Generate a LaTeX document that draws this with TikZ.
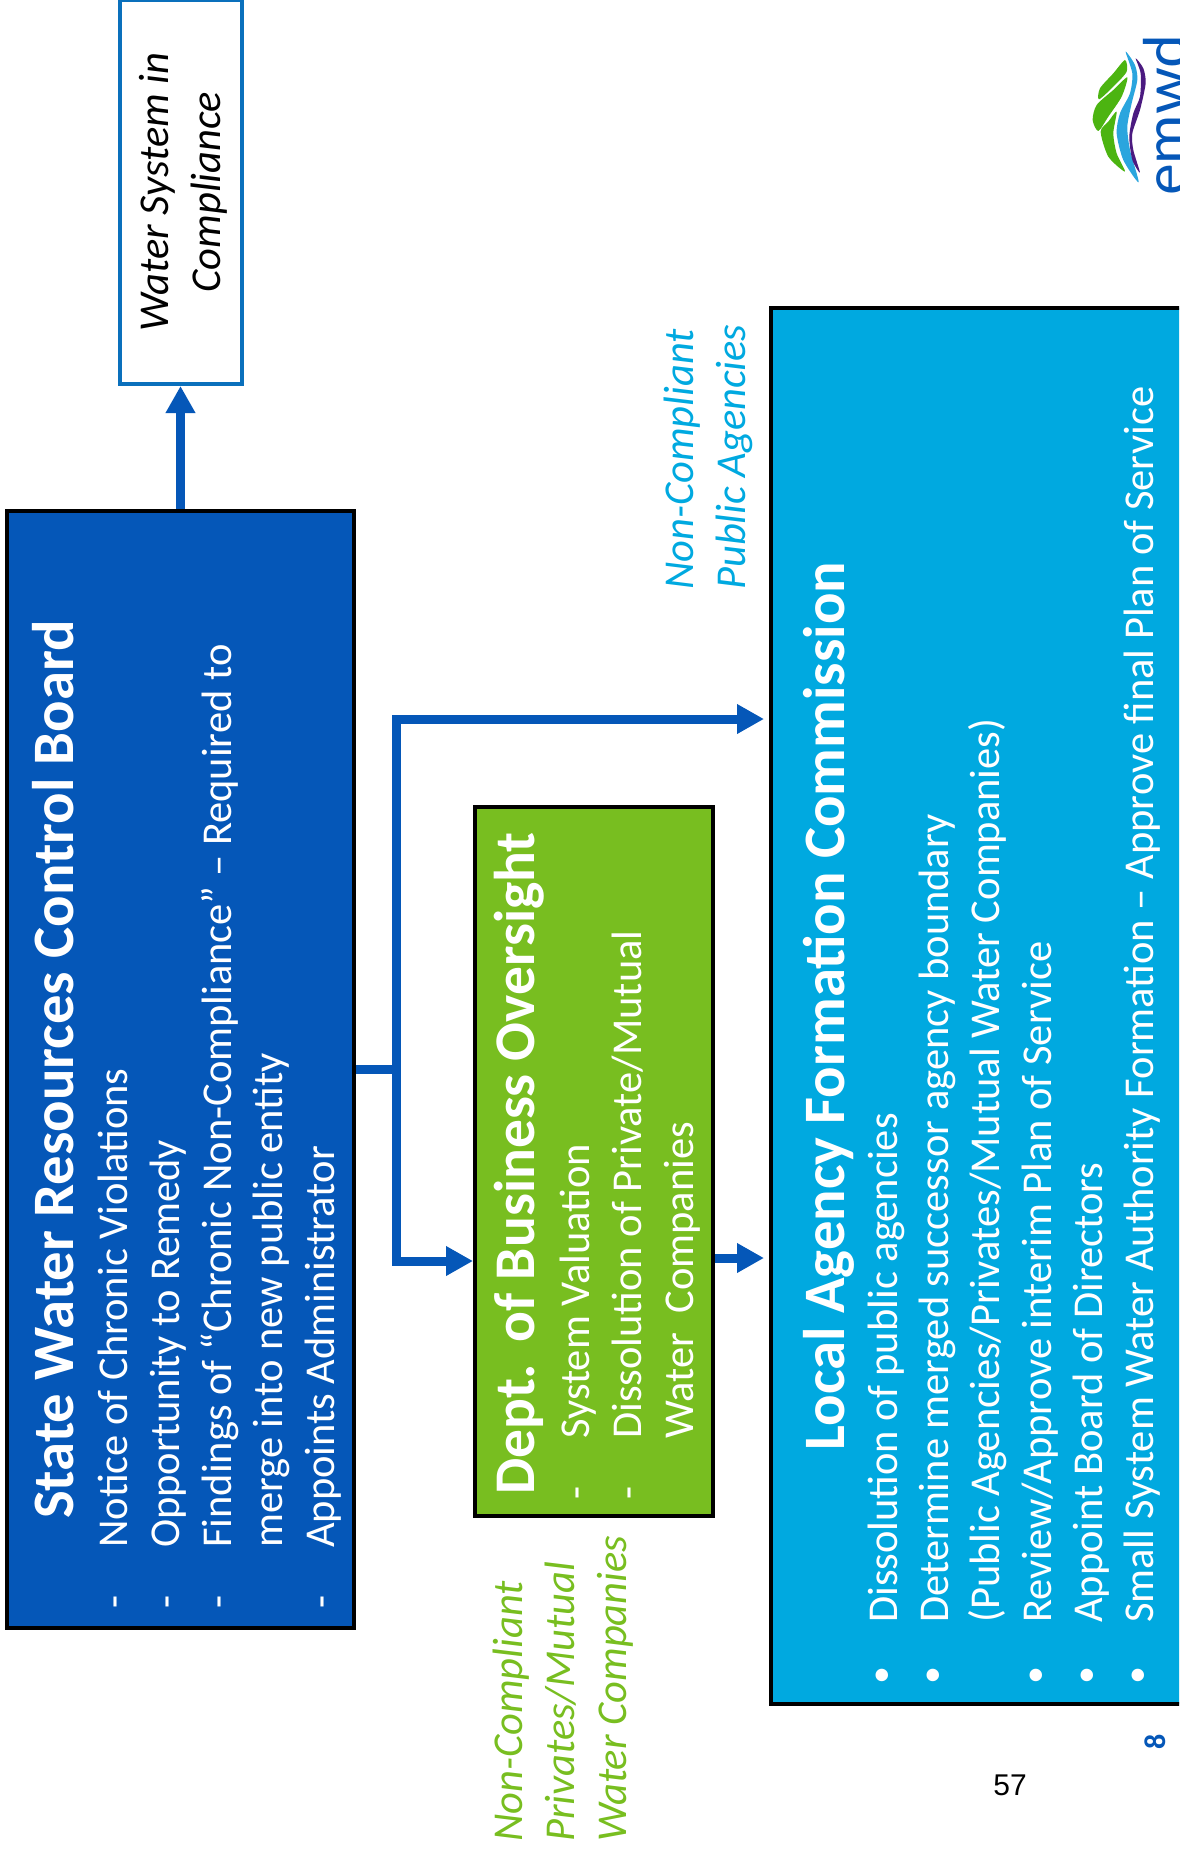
\documentclass[tikz,border=0pt]{standalone}
\usepackage{fontspec}
\setmainfont{Carlito}
\newfontfamily\logofont{Lato}
\newfontfamily\pagefont{Liberation Sans}
\usetikzlibrary{arrows.meta}
\definecolor{boardblue}{HTML}{0557B8}
\definecolor{oversightgreen}{HTML}{78BE20}
\definecolor{lafcoblue}{HTML}{00A9E0}
\definecolor{framebluex}{HTML}{0A70BC}
\definecolor{leafgreen}{HTML}{4CB411}
\definecolor{streamblue}{HTML}{2AA5DE}
\definecolor{streampurple}{HTML}{4B1A80}
\newcommand{\bodysize}{\fontsize{42.5}{51.7}\selectfont}
\newcommand{\dashitem}[1]{\makebox[53pt][l]{\hspace*{-8pt}-}#1}
\newcommand{\dotitem}[1]{\makebox[53pt][l]{\hspace*{-8pt}{\pagefont\fontsize{46}{51}\selectfont •}}#1}
\newcommand{\contitem}[1]{\makebox[53pt][l]{}#1}
\tikzset{
  box/.style={draw=black,line width=4pt,inner sep=0pt,minimum width=#1},
  bodytext/.style={rotate=90,anchor=north west,inner sep=0pt,align=left,text=white,font=\bodysize},
  titletext/.style={rotate=90,inner sep=0pt,text=white,font=\fontsize{58.7}{70}\selectfont\bfseries},
  notelabel/.style={rotate=90,anchor=north west,inner sep=0pt,align=left,font=\bodysize\itshape},
  flow/.style={draw=boardblue,line width=9pt},
  flowarrow/.style={flow,-{Triangle[length=27pt,width=28pt]}}
}
\begin{document}
\begin{tikzpicture}[x=1pt,y=-1pt]
\useasboundingbox (0,0) rectangle (1179,1850);
\clip (0,0) rectangle (1179,1850);
\fill[white] (0,0) rectangle (1179,1850);

% boxes
\node[box=347pt,fill=boardblue,minimum height=1117pt] (board) at (180.5,1069.5) {};
\node[draw=framebluex,line width=4pt,fill=white,inner sep=0pt,minimum width=122pt,minimum height=384pt] (compliance) at (181,192) {};
\node[box=238pt,fill=oversightgreen,minimum height=709pt] (dbo) at (594,1161.5) {};
\node[box=460pt,fill=lafcoblue,minimum height=1396pt] (lafco) at (1001,1006) {};

% connectors
\coordinate (split) at (396,1069);
\coordinate (lafcoin) at (lafco.west |- 0,719);
\coordinate (splittop) at (396,719);
\coordinate (dbotarget) at (dbo.west |- 0,1261);
\coordinate (splitlow) at (396,1261);
\draw[flowarrow] (board.north) -- (compliance.south -| board.north);
\draw[flow] (board.east |- split) -- (split);
\draw[flow,line cap=rect] (splittop) -- (splitlow);
\draw[flowarrow,shorten >=5pt] (splittop) -- (lafcoin);
\draw[flowarrow] (splitlow) -- (dbotarget);
\draw[flowarrow,shorten >=5pt] (dbo.east |- 0,1258) -- (lafco.west |- 0,1258);

% texts
\node[titletext,anchor=base west] (boardtitle) at (73,1519) {State Water Resources Control Board};
\node[bodytext] (boardlist) at (98,1601) {\dashitem{Notice of Chronic Violations}\\
\dashitem{Opportunity to Remedy}\\
\dashitem{Findings of “Chronic Non-Compliance” – Required to}\\
\contitem{merge into new public entity}\\
\dashitem{Appoints Administrator}};

\node[titletext,anchor=base west,font=\fontsize{57.5}{70}\selectfont\bfseries] (dbotitle) at (534,1495) {Dept.\ \hspace{.15em}of Business Oversight};
\node[bodytext] (dbolist) at (560,1492) {\dashitem{System Valuation}\\
\dashitem{Dissolution of Private/Mutual}\\
\contitem{Water\ \ Companies}};

\node[titletext,anchor=base] (lafcotitle) at (844,1006) {Local Agency Formation Commission};
\node[bodytext,font=\fontsize{42.5}{51.1}\selectfont] (lafcolist) at (868,1676) {\dotitem{Dissolution of public agencies}\\
\dotitem{Determine merged successor agency boundary}\\
\contitem{(Public Agencies/Privates/Mutual Water Companies)}\\
\dotitem{Review/Approve interim Plan of Service}\\
\dotitem{Appoint Board of Directors}\\
\dotitem{Small System Water Authority Formation – Approve final Plan of Service}};

\node[rotate=90,inner sep=0pt,align=center,font=\bodysize\itshape,text=black] (compliancetext) at (183,192) {Water System in\\Compliance};

\node[notelabel,text=oversightgreen] (privatelabel) at (493,1842) {Non-Compliant\\Privates/Mutual\\Water Companies};
\node[notelabel,text=lafcoblue] (publiclabel) at (664,590) {Non-Compliant\\Public Agencies};

\node[inner sep=0pt,font=\fontsize{30}{36}\pagefont] (pagenumber) at (1010,1785) {57};
\node[rotate=90,inner sep=0pt,font=\fontsize{30}{36}\selectfont\bfseries,text=boardblue] (slidenumber) at (1155,1742) {8};

% logo
\begin{scope}[shift={(900,0)},x=0.3333pt,y=-0.3333pt]
\fill[leafgreen] plot[smooth cycle,tension=.45] coordinates {(597,298) (600,265) (640,220) (675,180) (680,215) (640,260)};
\fill[leafgreen] plot[smooth cycle,tension=.45] coordinates {(595,393) (578,360) (590,315) (640,270) (682,232) (665,290) (625,350)};
\fill[leafgreen] plot[smooth cycle,tension=.45] coordinates {(675,515) (625,470) (602,395) (625,365) (650,335) (640,400) (650,460)};
\fill[streamblue] plot[smooth cycle,tension=.45] coordinates {(677,155) (705,195) (712,240) (695,310) (682,380) (690,450) (716,547) (670,480) (650,400) (660,340) (690,280) (697,220)};
\fill[streampurple] plot[smooth cycle,tension=.45] coordinates {(707,175) (730,205) (737,250) (720,330) (697,400) (700,450) (720,518) (697,480) (688,410) (700,340) (720,290) (722,220)};
\end{scope}
\node[rotate=90,anchor=base west,inner sep=0pt,font=\fontsize{60}{64}\logofont,text=boardblue] (logotext) at (1187,196) {emwd};
\end{tikzpicture}
\end{document}
